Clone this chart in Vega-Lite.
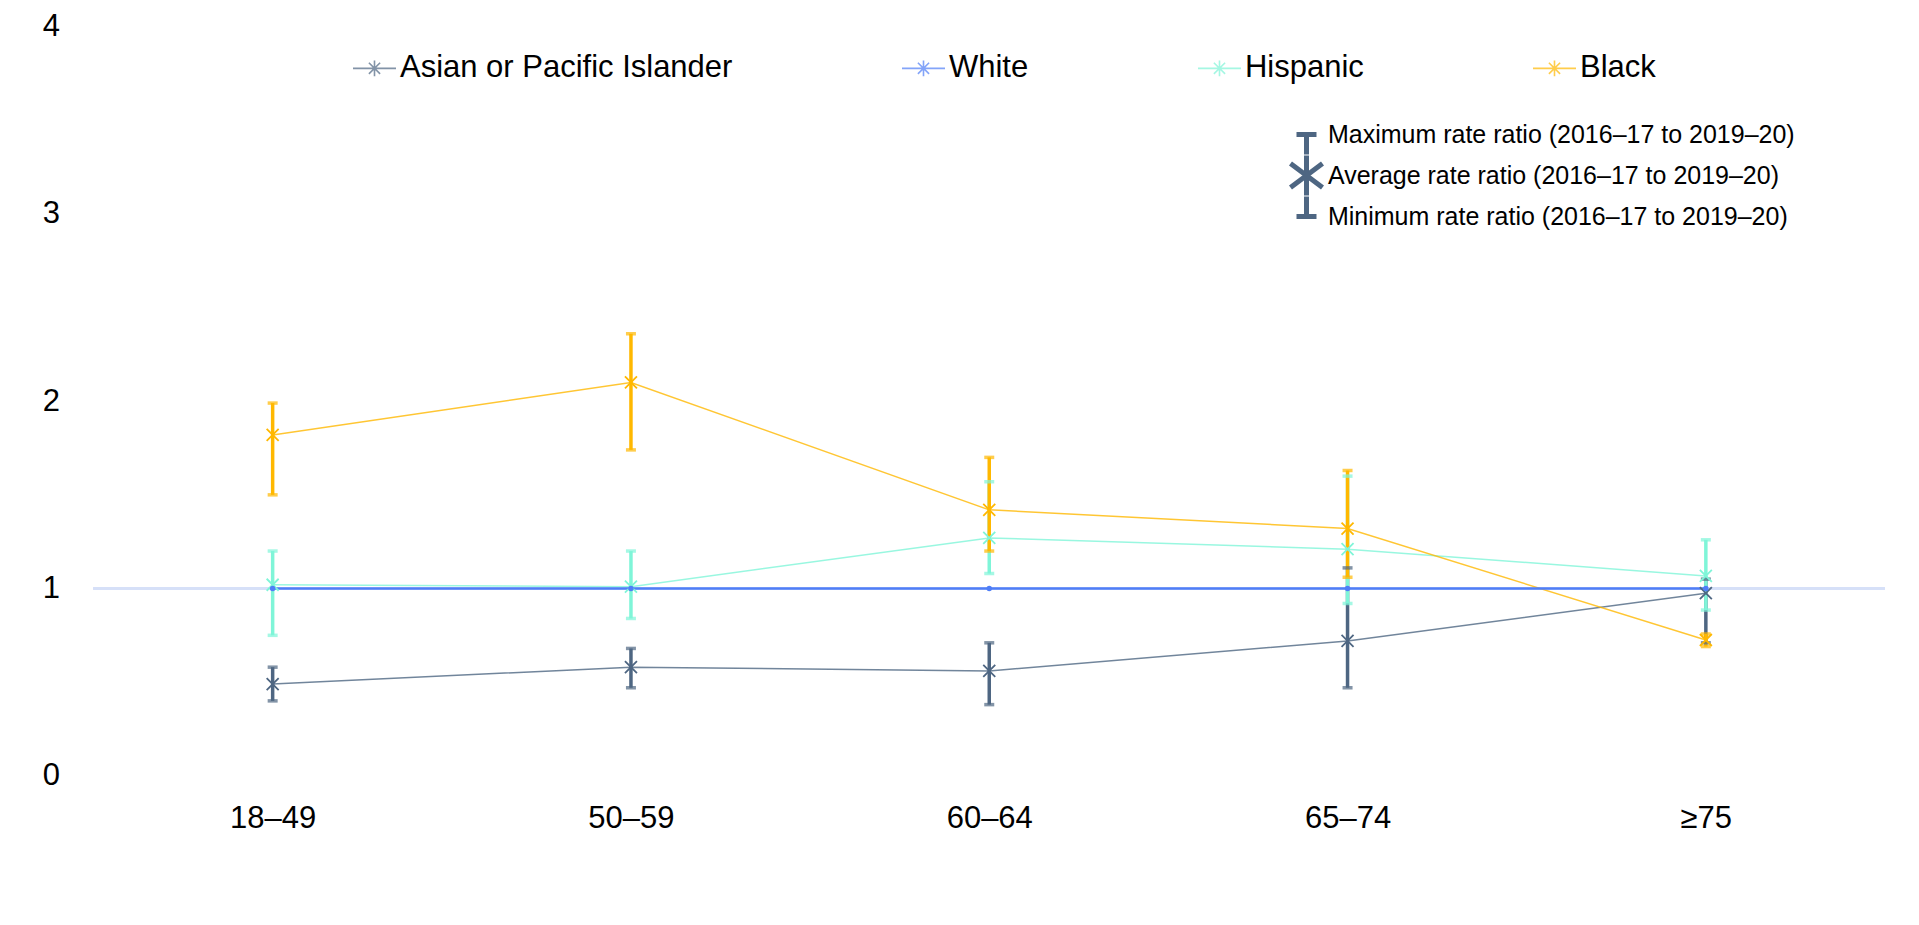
{
  "$schema": "https://vega.github.io/schema/vega-lite/v6.json",
  "width": 1791.5,
  "height": 749.2,
  "autosize": {"type": "none"},
  "padding": {"left": 93.5, "top": 26.6, "right": 34, "bottom": 149},
  "background": "white",
  "config": {"view": {"stroke": null}, "font": "Liberation Sans"},
  "datasets": {
    "rates": [
      {"age": "18–49", "race": "White", "avg": 1, "min": 1, "max": 1},
      {"age": "18–49", "race": "Asian or Pacific Islander", "avg": 0.49, "min": 0.40, "max": 0.58},
      {"age": "18–49", "race": "Hispanic", "avg": 1.02, "min": 0.75, "max": 1.20},
      {"age": "18–49", "race": "Black", "avg": 1.82, "min": 1.50, "max": 1.99},
      {"age": "50–59", "race": "White", "avg": 1, "min": 1, "max": 1},
      {"age": "50–59", "race": "Asian or Pacific Islander", "avg": 0.58, "min": 0.47, "max": 0.68},
      {"age": "50–59", "race": "Hispanic", "avg": 1.01, "min": 0.84, "max": 1.20},
      {"age": "50–59", "race": "Black", "avg": 2.10, "min": 1.74, "max": 2.36},
      {"age": "60–64", "race": "White", "avg": 1, "min": 1, "max": 1},
      {"age": "60–64", "race": "Asian or Pacific Islander", "avg": 0.56, "min": 0.38, "max": 0.71},
      {"age": "60–64", "race": "Hispanic", "avg": 1.27, "min": 1.08, "max": 1.57},
      {"age": "60–64", "race": "Black", "avg": 1.42, "min": 1.20, "max": 1.70},
      {"age": "65–74", "race": "White", "avg": 1, "min": 1, "max": 1},
      {"age": "65–74", "race": "Asian or Pacific Islander", "avg": 0.72, "min": 0.47, "max": 1.11},
      {"age": "65–74", "race": "Hispanic", "avg": 1.21, "min": 0.92, "max": 1.60},
      {"age": "65–74", "race": "Black", "avg": 1.32, "min": 1.06, "max": 1.63},
      {"age": "≥75", "race": "White", "avg": 1, "min": 1, "max": 1},
      {"age": "≥75", "race": "Asian or Pacific Islander", "avg": 0.975, "min": 0.71, "max": 1.05},
      {"age": "≥75", "race": "Hispanic", "avg": 1.067, "min": 0.885, "max": 1.26},
      {"age": "≥75", "race": "Black", "avg": 0.725, "min": 0.69, "max": 0.757}
    ],
    "keys": [
      {"stat": "Maximum rate ratio (2016–17 to 2019–20)"},
      {"stat": "Average rate ratio (2016–17 to 2019–20)"},
      {"stat": "Minimum rate ratio (2016–17 to 2019–20)"}
    ]
  },
  "data": {"name": "rates"},
  "layer": [
    {
      "mark": {"type": "rule", "color": "#d6e0f8", "strokeWidth": 2},
      "encoding": {"y": {"datum": 1, "type": "quantitative"}}
    },
    {
      "transform": [{"filter": "datum.race !== 'White'"}],
      "mark": {"type": "rule", "strokeWidth": 3.5},
      "encoding": {
        "x": {"field": "age", "type": "ordinal", "sort": ["18–49", "50–59", "60–64", "65–74", "≥75"], "scale": {"type": "point", "padding": 0.5},
          "axis": {"title": null, "domain": false, "ticks": false, "labelFontSize": 31, "labelPadding": 27.5, "labelColor": "#000", "labelAngle": 0}},
        "y": {"field": "min", "type": "quantitative", "scale": {"domain": [0, 4], "nice": false},
          "axis": {"title": null, "values": [0, 1, 2, 3, 4], "format": "d", "grid": false, "domain": false, "ticks": false, "labelFontSize": 31, "labelPadding": 34, "labelColor": "#000"}},
        "y2": {"field": "max"},
        "color": {"field": "race", "type": "nominal",
          "scale": {"domain": ["Asian or Pacific Islander", "White", "Hispanic", "Black"], "range": ["#4e6682", "#4f7ef7", "#7ff5d8", "#ffb800"]},
          "legend": {"title": null, "orient": "none", "legendX": 258.5, "legendY": 19, "direction": "horizontal",
            "symbolType": "M-1,0L1,0M-0.26,-0.26L0.26,0.26M-0.26,0.26L0.26,-0.26M0,-0.37L0,0.37",
            "symbolSize": 1849, "symbolStrokeWidth": 1.6, "labelFontSize": 31, "labelOffset": 3, "columnPadding": 165,
            "padding": 0, "labelLimit": 0, "labelColor": "#000"}}
      }
    },
    {
      "transform": [{"filter": "datum.race !== 'White'"}],
      "mark": {"type": "tick", "size": 10, "thickness": 3.5},
      "encoding": {
        "x": {"field": "age", "type": "ordinal", "sort": ["18–49", "50–59", "60–64", "65–74", "≥75"]},
        "y": {"field": "min", "type": "quantitative"},
        "color": {"field": "race", "type": "nominal"}
      }
    },
    {
      "transform": [{"filter": "datum.race !== 'White'"}],
      "mark": {"type": "tick", "size": 10, "thickness": 3.5},
      "encoding": {
        "x": {"field": "age", "type": "ordinal", "sort": ["18–49", "50–59", "60–64", "65–74", "≥75"]},
        "y": {"field": "max", "type": "quantitative"},
        "color": {"field": "race", "type": "nominal"}
      }
    },
    {
      "transform": [{"filter": "datum.race !== 'White'"}],
      "mark": {"type": "line", "strokeWidth": 1.5, "opacity": 0.8},
      "encoding": {
        "x": {"field": "age", "type": "ordinal", "sort": ["18–49", "50–59", "60–64", "65–74", "≥75"]},
        "y": {"field": "avg", "type": "quantitative"},
        "color": {"field": "race", "type": "nominal"}
      }
    },
    {
      "transform": [{"filter": "datum.race === 'White'"}],
      "mark": {"type": "line", "strokeWidth": 2.5},
      "encoding": {
        "x": {"field": "age", "type": "ordinal", "sort": ["18–49", "50–59", "60–64", "65–74", "≥75"]},
        "y": {"field": "avg", "type": "quantitative"},
        "color": {"field": "race", "type": "nominal"}
      }
    },
    {
      "transform": [{"filter": "datum.race !== 'White'"}],
      "mark": {"type": "point", "shape": "M-1,-1L1,1M-1,1L1,-1", "filled": false, "strokeWidth": 1.8, "size": 144, "opacity": 1},
      "encoding": {
        "x": {"field": "age", "type": "ordinal", "sort": ["18–49", "50–59", "60–64", "65–74", "≥75"]},
        "y": {"field": "avg", "type": "quantitative"},
        "color": {"field": "race", "type": "nominal"}
      }
    },
    {
      "transform": [{"filter": "datum.race === 'White'"}],
      "mark": {"type": "circle", "size": 30, "opacity": 1},
      "encoding": {
        "x": {"field": "age", "type": "ordinal", "sort": ["18–49", "50–59", "60–64", "65–74", "≥75"]},
        "y": {"field": "avg", "type": "quantitative"},
        "color": {"field": "race", "type": "nominal"}
      }
    },
    {
      "data": {"name": "keys"},
      "mark": {"type": "point", "filled": false, "opacity": 0, "size": 0},
      "encoding": {
        "shape": {"field": "stat", "type": "nominal",
          "scale": {"domain": ["Maximum rate ratio (2016–17 to 2019–20)", "Average rate ratio (2016–17 to 2019–20)", "Minimum rate ratio (2016–17 to 2019–20)"],
            "range": ["M-0.5,0L0.5,0M0,0L0,1.2", "M0,-1.2L0,1.2M-0.8,-0.6L0.8,0.6M-0.8,0.6L0.8,-0.6", "M0,-1.2L0,0M-0.5,0L0.5,0"]},
          "legend": {"title": null, "orient": "none", "legendX": 1190.5, "legendY": 88, "direction": "vertical",
            "symbolSize": 1600, "symbolStrokeWidth": 5, "symbolStrokeColor": "#4e6682", "symbolFillColor": "transparent", "symbolOpacity": 1,
            "clipHeight": 40,
            "labelFontSize": 25, "labelOffset": -1, "rowPadding": 1, "padding": 0, "labelLimit": 0, "labelColor": "#000"}}
      }
    }
  ]
}
